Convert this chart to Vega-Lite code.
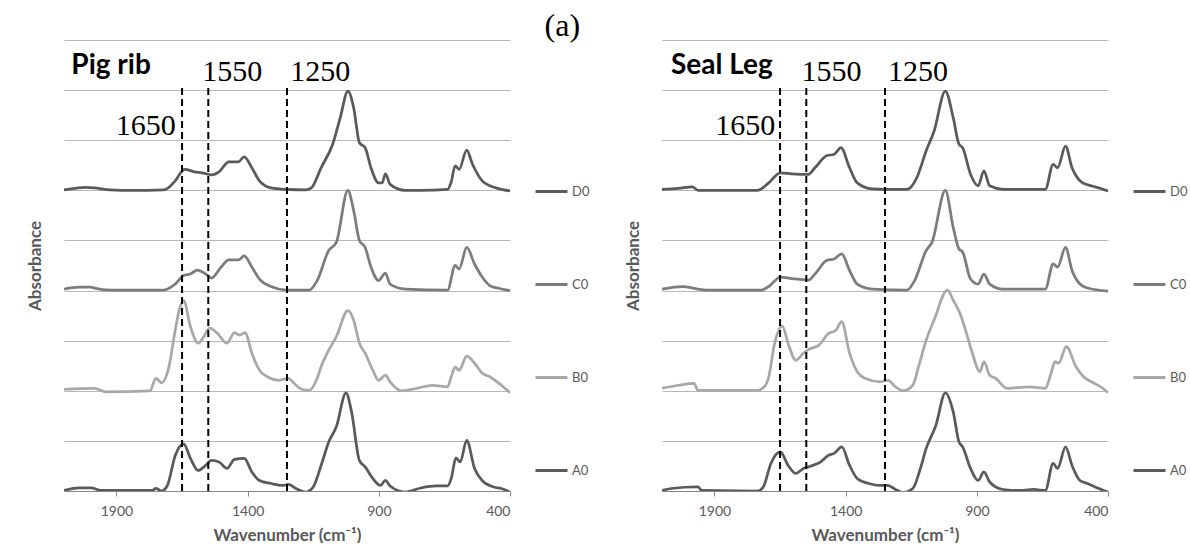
{
  "$schema": "https://vega.github.io/schema/vega-lite/v6.json",
  "background": "white",
  "padding": {"left": 26, "top": 10, "right": 0, "bottom": 0},
  "bounds": "flush",
  "spacing": 152,
  "config": {
    "view": {"stroke": null},
    "font": "Lato"
  },
  "datasets": {
    "pig_rib": [
      {"s":"D0","w":2100,"a":0.001},{"s":"D0","w":2057,"a":0.004},{"s":"D0","w":2020,"a":0.006},{"s":"D0","w":1984,"a":0.005},{"s":"D0","w":1925,"a":0.001},{"s":"D0","w":1837,"a":0.0},{"s":"D0","w":1720,"a":0.001},{"s":"D0","w":1700,"a":0.006},{"s":"D0","w":1676,"a":0.019},{"s":"D0","w":1640,"a":0.042},{"s":"D0","w":1603,"a":0.037},{"s":"D0","w":1574,"a":0.035},{"s":"D0","w":1538,"a":0.031},{"s":"D0","w":1509,"a":0.037},{"s":"D0","w":1472,"a":0.057},{"s":"D0","w":1435,"a":0.057},{"s":"D0","w":1413,"a":0.067},{"s":"D0","w":1384,"a":0.045},{"s":"D0","w":1355,"a":0.019},{"s":"D0","w":1311,"a":0.005},{"s":"D0","w":1252,"a":0.002},{"s":"D0","w":1179,"a":0.001},{"s":"D0","w":1157,"a":0.005},{"s":"D0","w":1120,"a":0.045},{"s":"D0","w":1076,"a":0.092},{"s":"D0","w":1047,"a":0.145},{"s":"D0","w":1018,"a":0.198},{"s":"D0","w":996,"a":0.165},{"s":"D0","w":974,"a":0.095},{"s":"D0","w":952,"a":0.085},{"s":"D0","w":930,"a":0.045},{"s":"D0","w":901,"a":0.015},{"s":"D0","w":887,"a":0.015},{"s":"D0","w":875,"a":0.033},{"s":"D0","w":857,"a":0.012},{"s":"D0","w":799,"a":0.0},{"s":"D0","w":740,"a":0.0},{"s":"D0","w":638,"a":0.002},{"s":"D0","w":625,"a":0.015},{"s":"D0","w":609,"a":0.049},{"s":"D0","w":594,"a":0.042},{"s":"D0","w":565,"a":0.08},{"s":"D0","w":543,"a":0.052},{"s":"D0","w":506,"a":0.019},{"s":"D0","w":477,"a":0.009},{"s":"D0","w":448,"a":0.004},{"s":"D0","w":400,"a":-0.001},
      {"s":"C0","w":2100,"a":0.003},{"s":"C0","w":2042,"a":0.007},{"s":"C0","w":1998,"a":0.007},{"s":"C0","w":1984,"a":0.005},{"s":"C0","w":1925,"a":0.001},{"s":"C0","w":1720,"a":0.001},{"s":"C0","w":1676,"a":0.013},{"s":"C0","w":1644,"a":0.03},{"s":"C0","w":1618,"a":0.033},{"s":"C0","w":1592,"a":0.041},{"s":"C0","w":1560,"a":0.033},{"s":"C0","w":1538,"a":0.025},{"s":"C0","w":1501,"a":0.047},{"s":"C0","w":1472,"a":0.061},{"s":"C0","w":1435,"a":0.061},{"s":"C0","w":1413,"a":0.069},{"s":"C0","w":1384,"a":0.047},{"s":"C0","w":1355,"a":0.023},{"s":"C0","w":1311,"a":0.008},{"s":"C0","w":1252,"a":0.001},{"s":"C0","w":1165,"a":0.001},{"s":"C0","w":1135,"a":0.02},{"s":"C0","w":1091,"a":0.08},{"s":"C0","w":1062,"a":0.096},{"s":"C0","w":1018,"a":0.2},{"s":"C0","w":996,"a":0.16},{"s":"C0","w":974,"a":0.1},{"s":"C0","w":952,"a":0.086},{"s":"C0","w":930,"a":0.047},{"s":"C0","w":901,"a":0.02},{"s":"C0","w":875,"a":0.035},{"s":"C0","w":857,"a":0.013},{"s":"C0","w":799,"a":0.003},{"s":"C0","w":638,"a":0.001},{"s":"C0","w":609,"a":0.05},{"s":"C0","w":594,"a":0.043},{"s":"C0","w":565,"a":0.086},{"s":"C0","w":535,"a":0.053},{"s":"C0","w":506,"a":0.027},{"s":"C0","w":477,"a":0.01},{"s":"C0","w":448,"a":0.005},{"s":"C0","w":400,"a":0.0},
      {"s":"B0","w":2100,"a":0.003},{"s":"B0","w":1984,"a":0.005},{"s":"B0","w":1940,"a":-0.002},{"s":"B0","w":1772,"a":0.0},{"s":"B0","w":1750,"a":0.025},{"s":"B0","w":1728,"a":0.016},{"s":"B0","w":1700,"a":0.048},{"s":"B0","w":1676,"a":0.121},{"s":"B0","w":1661,"a":0.161},{"s":"B0","w":1644,"a":0.18},{"s":"B0","w":1618,"a":0.128},{"s":"B0","w":1589,"a":0.095},{"s":"B0","w":1567,"a":0.108},{"s":"B0","w":1545,"a":0.125},{"s":"B0","w":1516,"a":0.115},{"s":"B0","w":1479,"a":0.095},{"s":"B0","w":1450,"a":0.116},{"s":"B0","w":1431,"a":0.111},{"s":"B0","w":1410,"a":0.116},{"s":"B0","w":1384,"a":0.075},{"s":"B0","w":1355,"a":0.041},{"s":"B0","w":1325,"a":0.028},{"s":"B0","w":1282,"a":0.021},{"s":"B0","w":1245,"a":0.025},{"s":"B0","w":1223,"a":0.015},{"s":"B0","w":1194,"a":0.003},{"s":"B0","w":1165,"a":0.001},{"s":"B0","w":1135,"a":0.025},{"s":"B0","w":1120,"a":0.048},{"s":"B0","w":1091,"a":0.081},{"s":"B0","w":1062,"a":0.108},{"s":"B0","w":1018,"a":0.16},{"s":"B0","w":996,"a":0.141},{"s":"B0","w":974,"a":0.095},{"s":"B0","w":952,"a":0.075},{"s":"B0","w":923,"a":0.041},{"s":"B0","w":901,"a":0.021},{"s":"B0","w":875,"a":0.031},{"s":"B0","w":857,"a":0.018},{"s":"B0","w":813,"a":0.0},{"s":"B0","w":755,"a":0.005},{"s":"B0","w":696,"a":0.011},{"s":"B0","w":638,"a":0.008},{"s":"B0","w":624,"a":0.028},{"s":"B0","w":609,"a":0.047},{"s":"B0","w":594,"a":0.041},{"s":"B0","w":565,"a":0.069},{"s":"B0","w":535,"a":0.055},{"s":"B0","w":506,"a":0.035},{"s":"B0","w":477,"a":0.028},{"s":"B0","w":433,"a":0.011},{"s":"B0","w":400,"a":-0.004},
      {"s":"A0","w":2100,"a":0.001},{"s":"A0","w":2042,"a":0.006},{"s":"A0","w":1998,"a":0.006},{"s":"A0","w":1955,"a":0.001},{"s":"A0","w":1764,"a":0.001},{"s":"A0","w":1750,"a":0.005},{"s":"A0","w":1728,"a":0.0},{"s":"A0","w":1706,"a":0.011},{"s":"A0","w":1676,"a":0.071},{"s":"A0","w":1644,"a":0.094},{"s":"A0","w":1618,"a":0.065},{"s":"A0","w":1589,"a":0.041},{"s":"A0","w":1560,"a":0.051},{"s":"A0","w":1538,"a":0.061},{"s":"A0","w":1509,"a":0.058},{"s":"A0","w":1479,"a":0.045},{"s":"A0","w":1450,"a":0.063},{"s":"A0","w":1413,"a":0.065},{"s":"A0","w":1384,"a":0.038},{"s":"A0","w":1355,"a":0.021},{"s":"A0","w":1311,"a":0.015},{"s":"A0","w":1267,"a":0.011},{"s":"A0","w":1245,"a":0.013},{"s":"A0","w":1216,"a":0.005},{"s":"A0","w":1179,"a":-0.002},{"s":"A0","w":1150,"a":0.008},{"s":"A0","w":1120,"a":0.051},{"s":"A0","w":1091,"a":0.098},{"s":"A0","w":1062,"a":0.128},{"s":"A0","w":1025,"a":0.196},{"s":"A0","w":1004,"a":0.158},{"s":"A0","w":974,"a":0.061},{"s":"A0","w":952,"a":0.048},{"s":"A0","w":923,"a":0.025},{"s":"A0","w":894,"a":0.011},{"s":"A0","w":875,"a":0.021},{"s":"A0","w":857,"a":0.01},{"s":"A0","w":799,"a":-0.002},{"s":"A0","w":740,"a":0.006},{"s":"A0","w":682,"a":0.01},{"s":"A0","w":638,"a":0.01},{"s":"A0","w":624,"a":0.025},{"s":"A0","w":606,"a":0.066},{"s":"A0","w":590,"a":0.058},{"s":"A0","w":565,"a":0.101},{"s":"A0","w":535,"a":0.045},{"s":"A0","w":506,"a":0.021},{"s":"A0","w":462,"a":0.008},{"s":"A0","w":433,"a":0.005},{"s":"A0","w":400,"a":-0.002}
    ],
    "seal_leg": [
      {"s":"D0","w":2100,"a":0.002},{"s":"D0","w":2037,"a":0.004},{"s":"D0","w":1985,"a":0.007},{"s":"D0","w":1963,"a":0.0},{"s":"D0","w":1736,"a":0.0},{"s":"D0","w":1693,"a":0.015},{"s":"D0","w":1649,"a":0.035},{"s":"D0","w":1605,"a":0.033},{"s":"D0","w":1542,"a":0.032},{"s":"D0","w":1517,"a":0.045},{"s":"D0","w":1473,"a":0.069},{"s":"D0","w":1444,"a":0.072},{"s":"D0","w":1418,"a":0.085},{"s":"D0","w":1385,"a":0.045},{"s":"D0","w":1356,"a":0.015},{"s":"D0","w":1298,"a":0.003},{"s":"D0","w":1239,"a":0.002},{"s":"D0","w":1166,"a":0.002},{"s":"D0","w":1129,"a":0.025},{"s":"D0","w":1093,"a":0.079},{"s":"D0","w":1063,"a":0.118},{"s":"D0","w":1020,"a":0.198},{"s":"D0","w":990,"a":0.145},{"s":"D0","w":968,"a":0.092},{"s":"D0","w":954,"a":0.085},{"s":"D0","w":924,"a":0.032},{"s":"D0","w":895,"a":0.009},{"s":"D0","w":873,"a":0.039},{"s":"D0","w":851,"a":0.009},{"s":"D0","w":800,"a":0.002},{"s":"D0","w":639,"a":0.002},{"s":"D0","w":609,"a":0.052},{"s":"D0","w":592,"a":0.045},{"s":"D0","w":562,"a":0.088},{"s":"D0","w":537,"a":0.045},{"s":"D0","w":507,"a":0.019},{"s":"D0","w":478,"a":0.011},{"s":"D0","w":449,"a":0.007},{"s":"D0","w":400,"a":-0.001},
      {"s":"C0","w":2100,"a":0.003},{"s":"C0","w":2022,"a":0.008},{"s":"C0","w":1963,"a":0.003},{"s":"C0","w":1934,"a":0.001},{"s":"C0","w":1722,"a":0.001},{"s":"C0","w":1693,"a":0.008},{"s":"C0","w":1649,"a":0.027},{"s":"C0","w":1605,"a":0.024},{"s":"C0","w":1542,"a":0.021},{"s":"C0","w":1517,"a":0.033},{"s":"C0","w":1473,"a":0.06},{"s":"C0","w":1444,"a":0.063},{"s":"C0","w":1415,"a":0.073},{"s":"C0","w":1385,"a":0.04},{"s":"C0","w":1356,"a":0.013},{"s":"C0","w":1298,"a":0.003},{"s":"C0","w":1166,"a":0.001},{"s":"C0","w":1137,"a":0.02},{"s":"C0","w":1093,"a":0.08},{"s":"C0","w":1071,"a":0.096},{"s":"C0","w":1020,"a":0.2},{"s":"C0","w":990,"a":0.126},{"s":"C0","w":968,"a":0.083},{"s":"C0","w":954,"a":0.077},{"s":"C0","w":924,"a":0.023},{"s":"C0","w":895,"a":0.013},{"s":"C0","w":873,"a":0.033},{"s":"C0","w":851,"a":0.013},{"s":"C0","w":800,"a":0.003},{"s":"C0","w":639,"a":0.003},{"s":"C0","w":609,"a":0.053},{"s":"C0","w":592,"a":0.047},{"s":"C0","w":562,"a":0.086},{"s":"C0","w":537,"a":0.04},{"s":"C0","w":507,"a":0.013},{"s":"C0","w":478,"a":0.005},{"s":"C0","w":400,"a":-0.001},
      {"s":"B0","w":2100,"a":0.005},{"s":"B0","w":2037,"a":0.011},{"s":"B0","w":1978,"a":0.015},{"s":"B0","w":1963,"a":0.001},{"s":"B0","w":1736,"a":0.001},{"s":"B0","w":1707,"a":0.01},{"s":"B0","w":1693,"a":0.028},{"s":"B0","w":1671,"a":0.094},{"s":"B0","w":1641,"a":0.129},{"s":"B0","w":1619,"a":0.094},{"s":"B0","w":1590,"a":0.061},{"s":"B0","w":1561,"a":0.075},{"s":"B0","w":1539,"a":0.083},{"s":"B0","w":1502,"a":0.091},{"s":"B0","w":1466,"a":0.114},{"s":"B0","w":1437,"a":0.121},{"s":"B0","w":1415,"a":0.138},{"s":"B0","w":1385,"a":0.075},{"s":"B0","w":1356,"a":0.038},{"s":"B0","w":1327,"a":0.025},{"s":"B0","w":1268,"a":0.018},{"s":"B0","w":1239,"a":0.021},{"s":"B0","w":1210,"a":0.008},{"s":"B0","w":1181,"a":0.0},{"s":"B0","w":1144,"a":0.011},{"s":"B0","w":1122,"a":0.048},{"s":"B0","w":1093,"a":0.101},{"s":"B0","w":1063,"a":0.141},{"s":"B0","w":1012,"a":0.201},{"s":"B0","w":990,"a":0.181},{"s":"B0","w":964,"a":0.154},{"s":"B0","w":939,"a":0.114},{"s":"B0","w":917,"a":0.075},{"s":"B0","w":888,"a":0.038},{"s":"B0","w":873,"a":0.058},{"s":"B0","w":851,"a":0.031},{"s":"B0","w":829,"a":0.025},{"s":"B0","w":785,"a":0.005},{"s":"B0","w":698,"a":0.008},{"s":"B0","w":639,"a":0.005},{"s":"B0","w":617,"a":0.035},{"s":"B0","w":602,"a":0.058},{"s":"B0","w":588,"a":0.055},{"s":"B0","w":559,"a":0.088},{"s":"B0","w":522,"a":0.048},{"s":"B0","w":493,"a":0.028},{"s":"B0","w":463,"a":0.018},{"s":"B0","w":420,"a":0.005},{"s":"B0","w":400,"a":-0.004},
      {"s":"A0","w":2100,"a":0.001},{"s":"A0","w":2066,"a":0.005},{"s":"A0","w":1963,"a":0.008},{"s":"A0","w":1948,"a":0.001},{"s":"A0","w":1736,"a":0.0},{"s":"A0","w":1714,"a":0.008},{"s":"A0","w":1685,"a":0.055},{"s":"A0","w":1649,"a":0.078},{"s":"A0","w":1619,"a":0.051},{"s":"A0","w":1590,"a":0.035},{"s":"A0","w":1561,"a":0.045},{"s":"A0","w":1532,"a":0.05},{"s":"A0","w":1495,"a":0.058},{"s":"A0","w":1466,"a":0.071},{"s":"A0","w":1444,"a":0.075},{"s":"A0","w":1415,"a":0.088},{"s":"A0","w":1385,"a":0.051},{"s":"A0","w":1356,"a":0.025},{"s":"A0","w":1312,"a":0.015},{"s":"A0","w":1268,"a":0.011},{"s":"A0","w":1239,"a":0.011},{"s":"A0","w":1210,"a":0.003},{"s":"A0","w":1181,"a":-0.003},{"s":"A0","w":1144,"a":0.005},{"s":"A0","w":1115,"a":0.045},{"s":"A0","w":1093,"a":0.085},{"s":"A0","w":1056,"a":0.131},{"s":"A0","w":1020,"a":0.196},{"s":"A0","w":990,"a":0.158},{"s":"A0","w":968,"a":0.098},{"s":"A0","w":954,"a":0.088},{"s":"A0","w":924,"a":0.045},{"s":"A0","w":895,"a":0.021},{"s":"A0","w":873,"a":0.038},{"s":"A0","w":851,"a":0.018},{"s":"A0","w":800,"a":0.003},{"s":"A0","w":742,"a":0.001},{"s":"A0","w":683,"a":0.003},{"s":"A0","w":639,"a":0.001},{"s":"A0","w":609,"a":0.055},{"s":"A0","w":592,"a":0.045},{"s":"A0","w":562,"a":0.088},{"s":"A0","w":537,"a":0.051},{"s":"A0","w":507,"a":0.021},{"s":"A0","w":478,"a":0.015},{"s":"A0","w":449,"a":0.008},{"s":"A0","w":400,"a":-0.002}
    ],
    "pig_rib_bands": [
      {"w": 1650, "lw": 1903, "la": 0.711},
      {"w": 1550, "lw": 1573, "la": 0.818},
      {"w": 1250, "lw": 1238, "la": 0.818}
    ],
    "seal_leg_bands": [
      {"w": 1650, "lw": 1897, "la": 0.711},
      {"w": 1550, "lw": 1568, "la": 0.818},
      {"w": 1250, "lw": 1239, "la": 0.818}
    ]
  },
  "hconcat": [
    {
      "width": 446,
      "height": 451,
      "layer": [
        {
          "data": {"name": "pig_rib"},
          "transform": [{"calculate": "datum.a + 0.2 * indexof(['A0','B0','C0','D0'], datum.s)", "as": "y"}],
          "mark": {"type": "line", "strokeWidth": 2.75, "interpolate": "monotone", "clip": true},
          "encoding": {
            "x": {"field": "w", "type": "quantitative", "title": "Wavenumber (cm⁻¹)",
                  "scale": {"domain": [400, 2100], "reverse": true, "nice": false, "zero": false},
                  "axis": {"values": [1900, 1400, 900, 400], "format": "d", "grid": false, "domainColor": "#868686", "tickColor": "#868686", "tickSize": 5,
                           "labelFont": "Lato", "labelFontSize": 14, "labelColor": "#595959", "labelPadding": 8,
                           "titleFont": "Lato", "titleFontSize": 17, "titleFontWeight": "bold", "titleColor": "#595959", "titlePadding": 9}},
            "y": {"field": "y", "type": "quantitative", "title": "Absorbance",
                  "scale": {"domain": [0, 0.9], "nice": false},
                  "axis": {"values": [0, 0.1, 0.2, 0.3, 0.4, 0.5, 0.6, 0.7, 0.8, 0.9], "labels": false, "ticks": false, "domain": false, "grid": true, "gridColor": "#b8b8b8",
                           "titleFont": "Lato", "titleFontSize": 17, "titleFontWeight": "bold", "titleColor": "#595959", "titlePadding": 20}},
            "color": {"field": "s", "type": "nominal",
                      "scale": {"domain": ["D0", "C0", "B0", "A0"], "range": ["#5a5a5a", "#7c7c7c", "#a8a8a8", "#5a5a5a"]},
                      "legend": {"orient": "none", "legendX": 470, "legendY": 134, "title": null, "symbolType": "stroke", "symbolSize": 1024, "symbolStrokeWidth": 3, "rowPadding": 68, "labelFont": "Lato", "labelFontSize": 13, "labelColor": "#595959", "labelOffset": 3, "padding": 0}}
          }
        },
        {
          "data": {"name": "pig_rib_bands"},
          "mark": {"type": "rule", "color": "black", "strokeWidth": 2, "strokeDash": [7, 4]},
          "encoding": {
            "x": {"field": "w", "type": "quantitative", "title": "Wavenumber (cm⁻¹)", "scale": {"domain": [400, 2100], "reverse": true, "nice": false, "zero": false}},
            "y": {"datum": 0, "type": "quantitative", "scale": {"domain": [0, 0.9], "nice": false}},
            "y2": {"datum": 0.81}
          }
        },
        {
          "data": {"name": "pig_rib_bands"},
          "mark": {"type": "text", "font": "Liberation Serif", "fontSize": 30, "align": "left", "baseline": "alphabetic", "color": "black"},
          "encoding": {
            "x": {"field": "lw", "type": "quantitative", "title": "Wavenumber (cm⁻¹)", "scale": {"domain": [400, 2100], "reverse": true, "nice": false, "zero": false}},
            "y": {"field": "la", "type": "quantitative", "title": "Absorbance", "scale": {"domain": [0, 0.9], "nice": false}},
            "text": {"field": "w", "type": "quantitative", "format": "d"}
          }
        },
        {
          "data": {"values": [{"sample": "Pig rib", "lw": 2072, "la": 0.833}]},
          "mark": {"type": "text", "font": "Lato", "fontWeight": "bold", "fontSize": 28, "align": "left", "baseline": "alphabetic", "color": "black"},
          "encoding": {
            "x": {"field": "lw", "type": "quantitative", "title": "Wavenumber (cm⁻¹)", "scale": {"domain": [400, 2100], "reverse": true, "nice": false, "zero": false}},
            "y": {"field": "la", "type": "quantitative", "title": "Absorbance", "scale": {"domain": [0, 0.9], "nice": false}},
            "text": {"field": "sample"}
          }
        },
        {
          "data": {"values": [{"tag": "(a)", "lw": 133, "la": 0.907}]},
          "mark": {"type": "text", "font": "Liberation Serif", "fontSize": 32, "align": "right", "baseline": "alphabetic", "color": "black"},
          "encoding": {
            "x": {"field": "lw", "type": "quantitative", "title": "Wavenumber (cm⁻¹)", "scale": {"domain": [400, 2100], "reverse": true, "nice": false, "zero": false}},
            "y": {"field": "la", "type": "quantitative", "title": "Absorbance", "scale": {"domain": [0, 0.9], "nice": false}},
            "text": {"field": "tag"}
          }
        }
      ]
    },
    {
      "width": 446,
      "height": 451,
      "layer": [
        {
          "data": {"name": "seal_leg"},
          "transform": [{"calculate": "datum.a + 0.2 * indexof(['A0','B0','C0','D0'], datum.s)", "as": "y"}],
          "mark": {"type": "line", "strokeWidth": 2.75, "interpolate": "monotone", "clip": true},
          "encoding": {
            "x": {"field": "w", "type": "quantitative", "title": "Wavenumber (cm⁻¹)",
                  "scale": {"domain": [400, 2100], "reverse": true, "nice": false, "zero": false},
                  "axis": {"values": [1900, 1400, 900, 400], "format": "d", "grid": false, "domainColor": "#868686", "tickColor": "#868686", "tickSize": 5,
                           "labelFont": "Lato", "labelFontSize": 14, "labelColor": "#595959", "labelPadding": 8,
                           "titleFont": "Lato", "titleFontSize": 17, "titleFontWeight": "bold", "titleColor": "#595959", "titlePadding": 9}},
            "y": {"field": "y", "type": "quantitative", "title": "Absorbance",
                  "scale": {"domain": [0, 0.9], "nice": false},
                  "axis": {"values": [0, 0.1, 0.2, 0.3, 0.4, 0.5, 0.6, 0.7, 0.8, 0.9], "labels": false, "ticks": false, "domain": false, "grid": true, "gridColor": "#b8b8b8",
                           "titleFont": "Lato", "titleFontSize": 17, "titleFontWeight": "bold", "titleColor": "#595959", "titlePadding": 20}},
            "color": {"field": "s", "type": "nominal",
                      "scale": {"domain": ["D0", "C0", "B0", "A0"], "range": ["#5a5a5a", "#7c7c7c", "#a8a8a8", "#5a5a5a"]},
                      "legend": {"orient": "none", "legendX": 470, "legendY": 134, "title": null, "symbolType": "stroke", "symbolSize": 1024, "symbolStrokeWidth": 3, "rowPadding": 68, "labelFont": "Lato", "labelFontSize": 13, "labelColor": "#595959", "labelOffset": 3, "padding": 0}}
          }
        },
        {
          "data": {"name": "seal_leg_bands"},
          "mark": {"type": "rule", "color": "black", "strokeWidth": 2, "strokeDash": [7, 4]},
          "encoding": {
            "x": {"field": "w", "type": "quantitative", "title": "Wavenumber (cm⁻¹)", "scale": {"domain": [400, 2100], "reverse": true, "nice": false, "zero": false}},
            "y": {"datum": 0, "type": "quantitative", "scale": {"domain": [0, 0.9], "nice": false}},
            "y2": {"datum": 0.81}
          }
        },
        {
          "data": {"name": "seal_leg_bands"},
          "mark": {"type": "text", "font": "Liberation Serif", "fontSize": 30, "align": "left", "baseline": "alphabetic", "color": "black"},
          "encoding": {
            "x": {"field": "lw", "type": "quantitative", "title": "Wavenumber (cm⁻¹)", "scale": {"domain": [400, 2100], "reverse": true, "nice": false, "zero": false}},
            "y": {"field": "la", "type": "quantitative", "title": "Absorbance", "scale": {"domain": [0, 0.9], "nice": false}},
            "text": {"field": "w", "type": "quantitative", "format": "d"}
          }
        },
        {
          "data": {"values": [{"sample": "Seal Leg", "lw": 2066, "la": 0.833}]},
          "mark": {"type": "text", "font": "Lato", "fontWeight": "bold", "fontSize": 28, "align": "left", "baseline": "alphabetic", "color": "black"},
          "encoding": {
            "x": {"field": "lw", "type": "quantitative", "title": "Wavenumber (cm⁻¹)", "scale": {"domain": [400, 2100], "reverse": true, "nice": false, "zero": false}},
            "y": {"field": "la", "type": "quantitative", "title": "Absorbance", "scale": {"domain": [0, 0.9], "nice": false}},
            "text": {"field": "sample"}
          }
        }
      ]
    }
  ],
  "resolve": {"scale": {"color": "independent"}, "legend": {"color": "independent"}}
}
